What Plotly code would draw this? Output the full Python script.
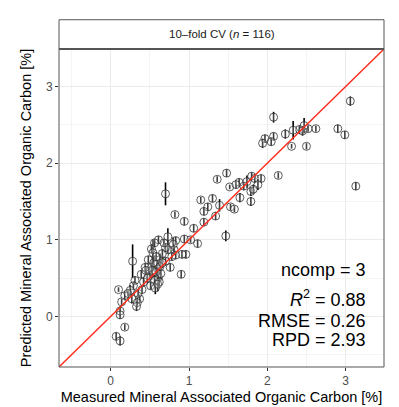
import plotly.graph_objects as go

# Measured (x), predicted (y), half-width of error bar (err)
measured = [3.06, 3.13, 2.08, 2.90, 2.99, 2.62, 2.52, 2.47, 2.41, 2.33, 2.23, 2.31, 2.50, 2.08, 1.97, 1.94,
            2.14, 1.48, 1.36, 1.52, 1.64, 1.74, 1.80, 1.84, 1.92, 1.88, 1.79, 1.79, 1.65, 1.53, 1.58, 1.39,
            1.30, 1.15, 1.24, 1.19, 1.34, 1.19, 1.06, 0.94, 0.82, 0.70, 1.47, 1.11, 1.02, 0.94, 0.83, 0.73,
            0.61, 0.56, 0.80, 0.81, 0.73, 0.96, 0.91, 0.83, 0.52, 0.54, 0.48, 0.28, 0.63, 0.59, 0.44, 0.52,
            0.60, 0.76, 0.90, 0.39, 0.50, 0.61, 0.56, 0.62, 0.51, 0.57, 0.31, 0.29, 0.10, 0.25, 0.18, 0.27,
            0.37, 0.34, 0.33, 0.14, 0.12, 0.12, 0.18, 0.07, 0.12,
            0.58, 0.64, 0.55, 0.66, 0.45, 0.70, 0.78, 0.35, 0.22, 0.42, 0.60, 0.63, 0.70, 0.58, 0.68,
            1.70, 1.82, 1.60, 2.45, 2.05, 0.47, 0.53, 0.66, 0.40]
predicted = [2.81, 1.70, 2.60, 2.45, 2.37, 2.45, 2.45, 2.49, 2.44, 2.43, 2.38, 2.22, 2.22, 2.35, 2.32, 2.26,
             1.84, 1.87, 1.79, 1.69, 1.75, 1.76, 1.83, 1.80, 1.80, 1.72, 1.63, 1.50, 1.55, 1.43, 1.40, 1.45,
             1.54, 1.52, 1.43, 1.37, 1.31, 1.23, 1.15, 1.24, 1.33, 1.60, 1.05, 0.95, 1.00, 1.01, 0.99, 1.04,
             1.00, 0.96, 0.94, 0.87, 0.87, 0.81, 0.81, 0.80, 0.88, 0.83, 0.74, 0.72, 0.74, 0.68, 0.64, 0.64,
             0.62, 0.64, 0.55, 0.55, 0.53, 0.51, 0.47, 0.45, 0.40, 0.37, 0.47, 0.40, 0.35, 0.34, 0.27, 0.23,
             0.23, 0.18, 0.13, 0.19, 0.07, 0.02, -0.14, -0.26, -0.32,
             0.58, 0.56, 0.70, 0.82, 0.60, 0.90, 0.78, 0.30, 0.30, 0.45, 0.42, 0.65, 0.72, 0.78, 0.96,
             1.70, 1.66, 1.72, 2.42, 2.28, 0.50, 0.60, 0.70, 0.35]
err = [0.06, 0.05, 0.07, 0.05, 0.05, 0.04, 0.04, 0.10, 0.05, 0.12, 0.06, 0.03, 0.04, 0.05, 0.05, 0.06,
       0.04, 0.05, 0.04, 0.03, 0.05, 0.08, 0.05, 0.06, 0.05, 0.07, 0.06, 0.06, 0.06, 0.04, 0.04, 0.08,
       0.05, 0.04, 0.05, 0.05, 0.05, 0.05, 0.05, 0.05, 0.04, 0.15, 0.07, 0.05, 0.04, 0.05, 0.05, 0.11,
       0.05, 0.05, 0.09, 0.06, 0.05, 0.05, 0.05, 0.05, 0.06, 0.17, 0.05, 0.22, 0.08, 0.06, 0.05, 0.06,
       0.08, 0.05, 0.05, 0.05, 0.06, 0.10, 0.07, 0.06, 0.05, 0.08, 0.05, 0.05, 0.03, 0.07, 0.05, 0.06,
       0.05, 0.06, 0.06, 0.04, 0.06, 0.05, 0.04, 0.05, 0.06,
       0.06, 0.08, 0.10, 0.06, 0.05, 0.06, 0.05, 0.05, 0.04, 0.06, 0.09, 0.07, 0.05, 0.06, 0.05,
       0.05, 0.06, 0.05, 0.06, 0.05, 0.06, 0.10, 0.07, 0.05]

strip_label = "10\u2013fold CV (<i>n</i> = 116)"
stats_lines = ["ncomp = 3", "<i>R</i><sup>2</sup> = 0.88", "RMSE = 0.26", "RPD = 2.93"]
stats_y = [268, 297, 320, 339]  # pixel rows of text centres

axis_lo, axis_hi = -0.66, 3.49
tickvals = [0, 1, 2, 3]

W, H = 399, 407
ml, mr, mt, mb = 51, 23, 41, 40
ph = H - mt - mb

fig = go.Figure()

fig.add_trace(go.Scatter(
    x=measured, y=predicted, mode="markers",
    marker=dict(symbol="circle", size=8, color="rgba(255,255,255,0.25)",
                line=dict(color="rgba(40,40,40,0.75)", width=1)),
    error_y=dict(type="data", array=err, color="black", thickness=1.6, width=0),
    showlegend=False, hoverinfo="skip"))

fig.add_trace(go.Scatter(
    x=[axis_lo, axis_hi], y=[axis_lo, axis_hi], mode="lines",
    line=dict(color="#ff2a1a", width=1.4), showlegend=False, hoverinfo="skip"))

font_family = "Liberation Sans, Arial, sans-serif"

axis_common = dict(
    range=[axis_lo, axis_hi], tickvals=tickvals, ticks="outside", ticklen=3,
    tickcolor="#333333", tickwidth=1,
    tickfont=dict(size=12, color="#4d4d4d", family=font_family),
    showgrid=True, gridcolor="#ebebeb", gridwidth=1.1,
    minor=dict(showgrid=True, gridcolor="#f4f4f4", gridwidth=0.6, dtick=0.5, tick0=0.5),
    zeroline=False, showline=False, mirror=False, fixedrange=True)

fig.update_layout(
    width=W, height=H,
    margin=dict(l=ml, r=mr, t=mt, b=mb),
    paper_bgcolor="white", plot_bgcolor="white",
    font=dict(family=font_family, color="black"),
    xaxis=dict(**axis_common,
               title=dict(text="Measured Mineral Associated Organic Carbon [%]",
                          font=dict(size=14.5, color="black"), standoff=4)),
    yaxis=dict(**axis_common,
               title=dict(text="Predicted Mineral Associated Organic Carbon [%]",
                          font=dict(size=14.5, color="black"), standoff=10)),
)

# Panel border
fig.add_shape(type="rect", xref="paper", yref="paper", x0=0, x1=1, y0=0, y1=1,
              line=dict(color="#555555", width=1), fillcolor="rgba(0,0,0,0)")
# Strip
strip_h = 30 / ph
fig.add_shape(type="rect", xref="paper", yref="paper", x0=0, x1=1, y0=1, y1=1 + strip_h,
              line=dict(color="#555555", width=1), fillcolor="white")
fig.add_shape(type="line", xref="paper", yref="paper", x0=0, x1=1, y0=1, y1=1,
              line=dict(color="#555555", width=2))
fig.add_annotation(xref="paper", yref="paper", x=0.5, y=1 + strip_h / 2,
                   text=strip_label, showarrow=False,
                   font=dict(size=11.5, color="#1a1a1a", family=font_family),
                   xanchor="center", yanchor="middle")

# Stats text
for line, py in zip(stats_lines, stats_y):
    fig.add_annotation(xref="paper", yref="paper",
                       x=(360 - ml) / (W - ml - mr), y=1 - (py - mt) / ph,
                       text=line, showarrow=False, xanchor="right", yanchor="middle",
                       font=dict(size=18, color="black", family=font_family))

fig.write_html("out.html")
